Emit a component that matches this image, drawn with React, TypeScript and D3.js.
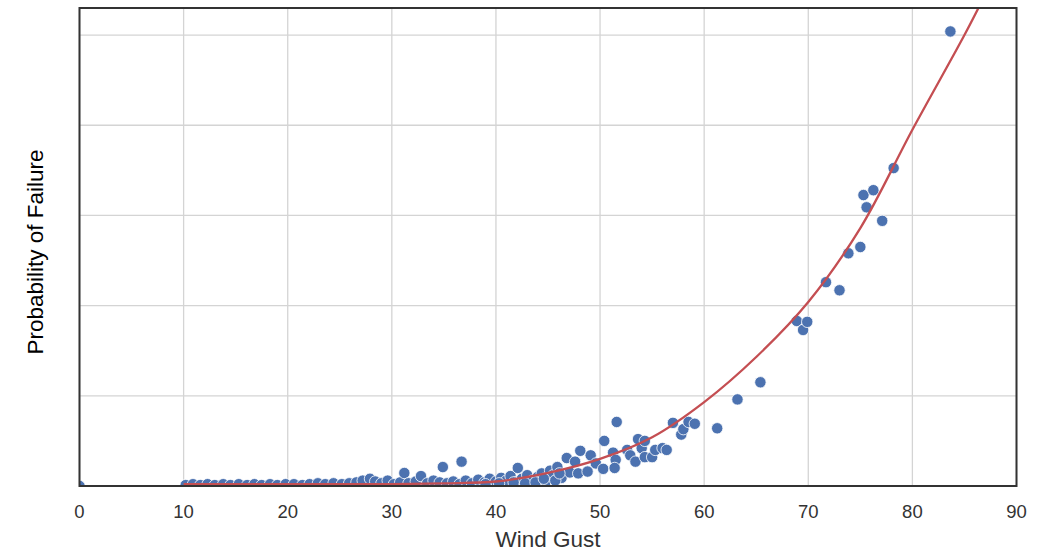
import React from "react";
import * as d3 from "d3";

// Scatter data: wind gust vs probability of failure
const gustValues: number[] = [
  0,
  10.2, 10.9, 11.6, 12.3, 13.0, 13.8, 14.5, 15.3, 16.1, 16.8, 17.5, 18.3, 19.0, 19.8,
  20.6, 21.4, 22.1, 22.9, 23.6, 24.4, 25.2, 25.9, 26.6, 27.2, 27.9, 28.4, 29.0, 29.6,
  30.2, 30.8, 31.2, 31.6, 32.3, 32.8, 33.4, 34.0, 34.6, 34.9, 35.3, 35.9, 36.5, 36.7,
  37.1, 37.7, 38.3, 38.9, 39.4, 40.0, 40.5, 41.0, 41.4, 41.9, 42.1, 42.5, 43.0, 43.5,
  44.0, 44.4, 44.8, 45.2, 45.5, 45.9, 46.3, 46.8, 47.1, 47.6, 47.9, 48.1, 48.8, 49.1,
  49.6, 50.3, 50.4, 51.25, 51.5, 51.4, 51.6, 52.6, 52.9, 53.4, 53.65, 54.0, 54.3, 54.3,
  55.0, 55.3, 56.0, 56.4, 57.0, 57.8, 58.0, 58.5, 59.1, 61.25, 63.2, 65.4, 68.9, 69.5,
  69.9, 71.7, 73.0, 73.85, 75.0, 75.3, 75.6, 76.25, 77.1, 78.2, 83.65,
  39.0, 40.3, 41.7, 42.8, 43.8, 44.6, 45.7, 46.1,
];
const failureValues: number[] = [
  0,
  0.001, 0.002, 0.001, 0.002, 0.001, 0.002, 0.001, 0.002, 0.001, 0.002, 0.001, 0.002, 0.001, 0.002,
  0.002, 0.001, 0.002, 0.003, 0.002, 0.003, 0.002, 0.003, 0.004, 0.006, 0.008, 0.005, 0.003, 0.006,
  0.002, 0.004, 0.0144, 0.003, 0.005, 0.011, 0.003, 0.006, 0.004, 0.021, 0.003, 0.005, 0.002, 0.027,
  0.006, 0.003, 0.007, 0.004, 0.008, 0.005, 0.009, 0.006, 0.011, 0.004, 0.02, 0.008, 0.012, 0.006,
  0.01, 0.014, 0.005, 0.017, 0.012, 0.021, 0.009, 0.031, 0.015, 0.027, 0.014, 0.039, 0.016, 0.034,
  0.025, 0.019, 0.05, 0.037, 0.029, 0.02, 0.071, 0.04, 0.034, 0.027, 0.052, 0.042, 0.032, 0.05,
  0.032, 0.04, 0.042, 0.04, 0.07, 0.057, 0.063, 0.071, 0.069, 0.064, 0.096, 0.115, 0.183, 0.173,
  0.182, 0.226, 0.217, 0.258, 0.265, 0.3226, 0.309, 0.328, 0.294, 0.3525, 0.504,
  0.002, 0.003, 0.004, 0.003, 0.004, 0.008, 0.006, 0.014,
];

// Fitted curve points
const curveGust: number[] = [10, 15, 20, 25, 30, 35, 40, 45, 50, 55, 60, 65, 70, 75, 80, 85, 87];
const curveFailure: number[] = [0.002, 0.002, 0.002, 0.002, 0.002, 0.003, 0.005, 0.0145, 0.03, 0.054, 0.093, 0.143, 0.204, 0.286, 0.395, 0.5, 0.545];

const xTicks: number[] = [0, 10, 20, 30, 40, 50, 60, 70, 80, 90];
const yGrid: number[] = [0.1, 0.2, 0.3, 0.4, 0.5];

export default function App() {
  const W = 1051, H = 551;
  const left = 79.5, right = 1016.5, top = 8, bottom = 486;
  const x = d3.scaleLinear().domain([0, 90]).range([left, right]);
  const y = d3.scaleLinear().domain([0, 0.53]).range([bottom, top]);

  const pts = gustValues.map((g, i) => ({ g, f: failureValues[i] }));
  const curve = curveGust.map((g, i) => [g, curveFailure[i]] as [number, number]);
  const line = d3
    .line<[number, number]>()
    .x((d) => x(d[0]))
    .y((d) => y(d[1]))
    .curve(d3.curveCatmullRom.alpha(0.5));

  const font = "'Liberation Sans', Arial, sans-serif";

  return (
    <svg
      width={W}
      height={H}
      style={{ position: "absolute", left: 0, top: 0, background: "#fff" }}
      fontFamily={font}
    >
      <defs>
        <clipPath id="plotclip">
          <rect x={left} y={top} width={right - left} height={bottom - top} />
        </clipPath>
      </defs>
      {/* grid */}
      {xTicks.map((t) => (
        <line key={"gx" + t} x1={x(t)} x2={x(t)} y1={top} y2={bottom} stroke="#d4d4d4" strokeWidth={1.3} />
      ))}
      {yGrid.map((t) => (
        <line key={"gy" + t} x1={left} x2={right} y1={y(t)} y2={y(t)} stroke="#d4d4d4" strokeWidth={1.3} />
      ))}
      <g clipPath="url(#plotclip)">
        {pts.map((p, i) => (
          <circle key={i} cx={x(p.g)} cy={y(p.f)} r={5.7} fill="#4c72b0" stroke="#ffffff" strokeWidth={0.8} />
        ))}
        <path d={line(curve) || ""} fill="none" stroke="#c44e52" strokeWidth={2.3} />
      </g>
      {/* spines */}
      <rect x={left} y={top} width={right - left} height={bottom - top} fill="none" stroke="#333333" strokeWidth={2} />
      {/* x tick labels */}
      {xTicks.map((t) => (
        <text key={"tx" + t} x={x(t)} y={518} textAnchor="middle" fontSize={18.5} fill="#333333">
          {t}
        </text>
      ))}
      <text x={(left + right) / 2} y={547} textAnchor="middle" fontSize={22.5} fill="#333333">
        Wind Gust
      </text>
      <text
        transform={`translate(43, 252) rotate(-90)`}
        textAnchor="middle"
        fontSize={22.5}
        fill="#000000"
      >
        Probability of Failure
      </text>
    </svg>
  );
}
